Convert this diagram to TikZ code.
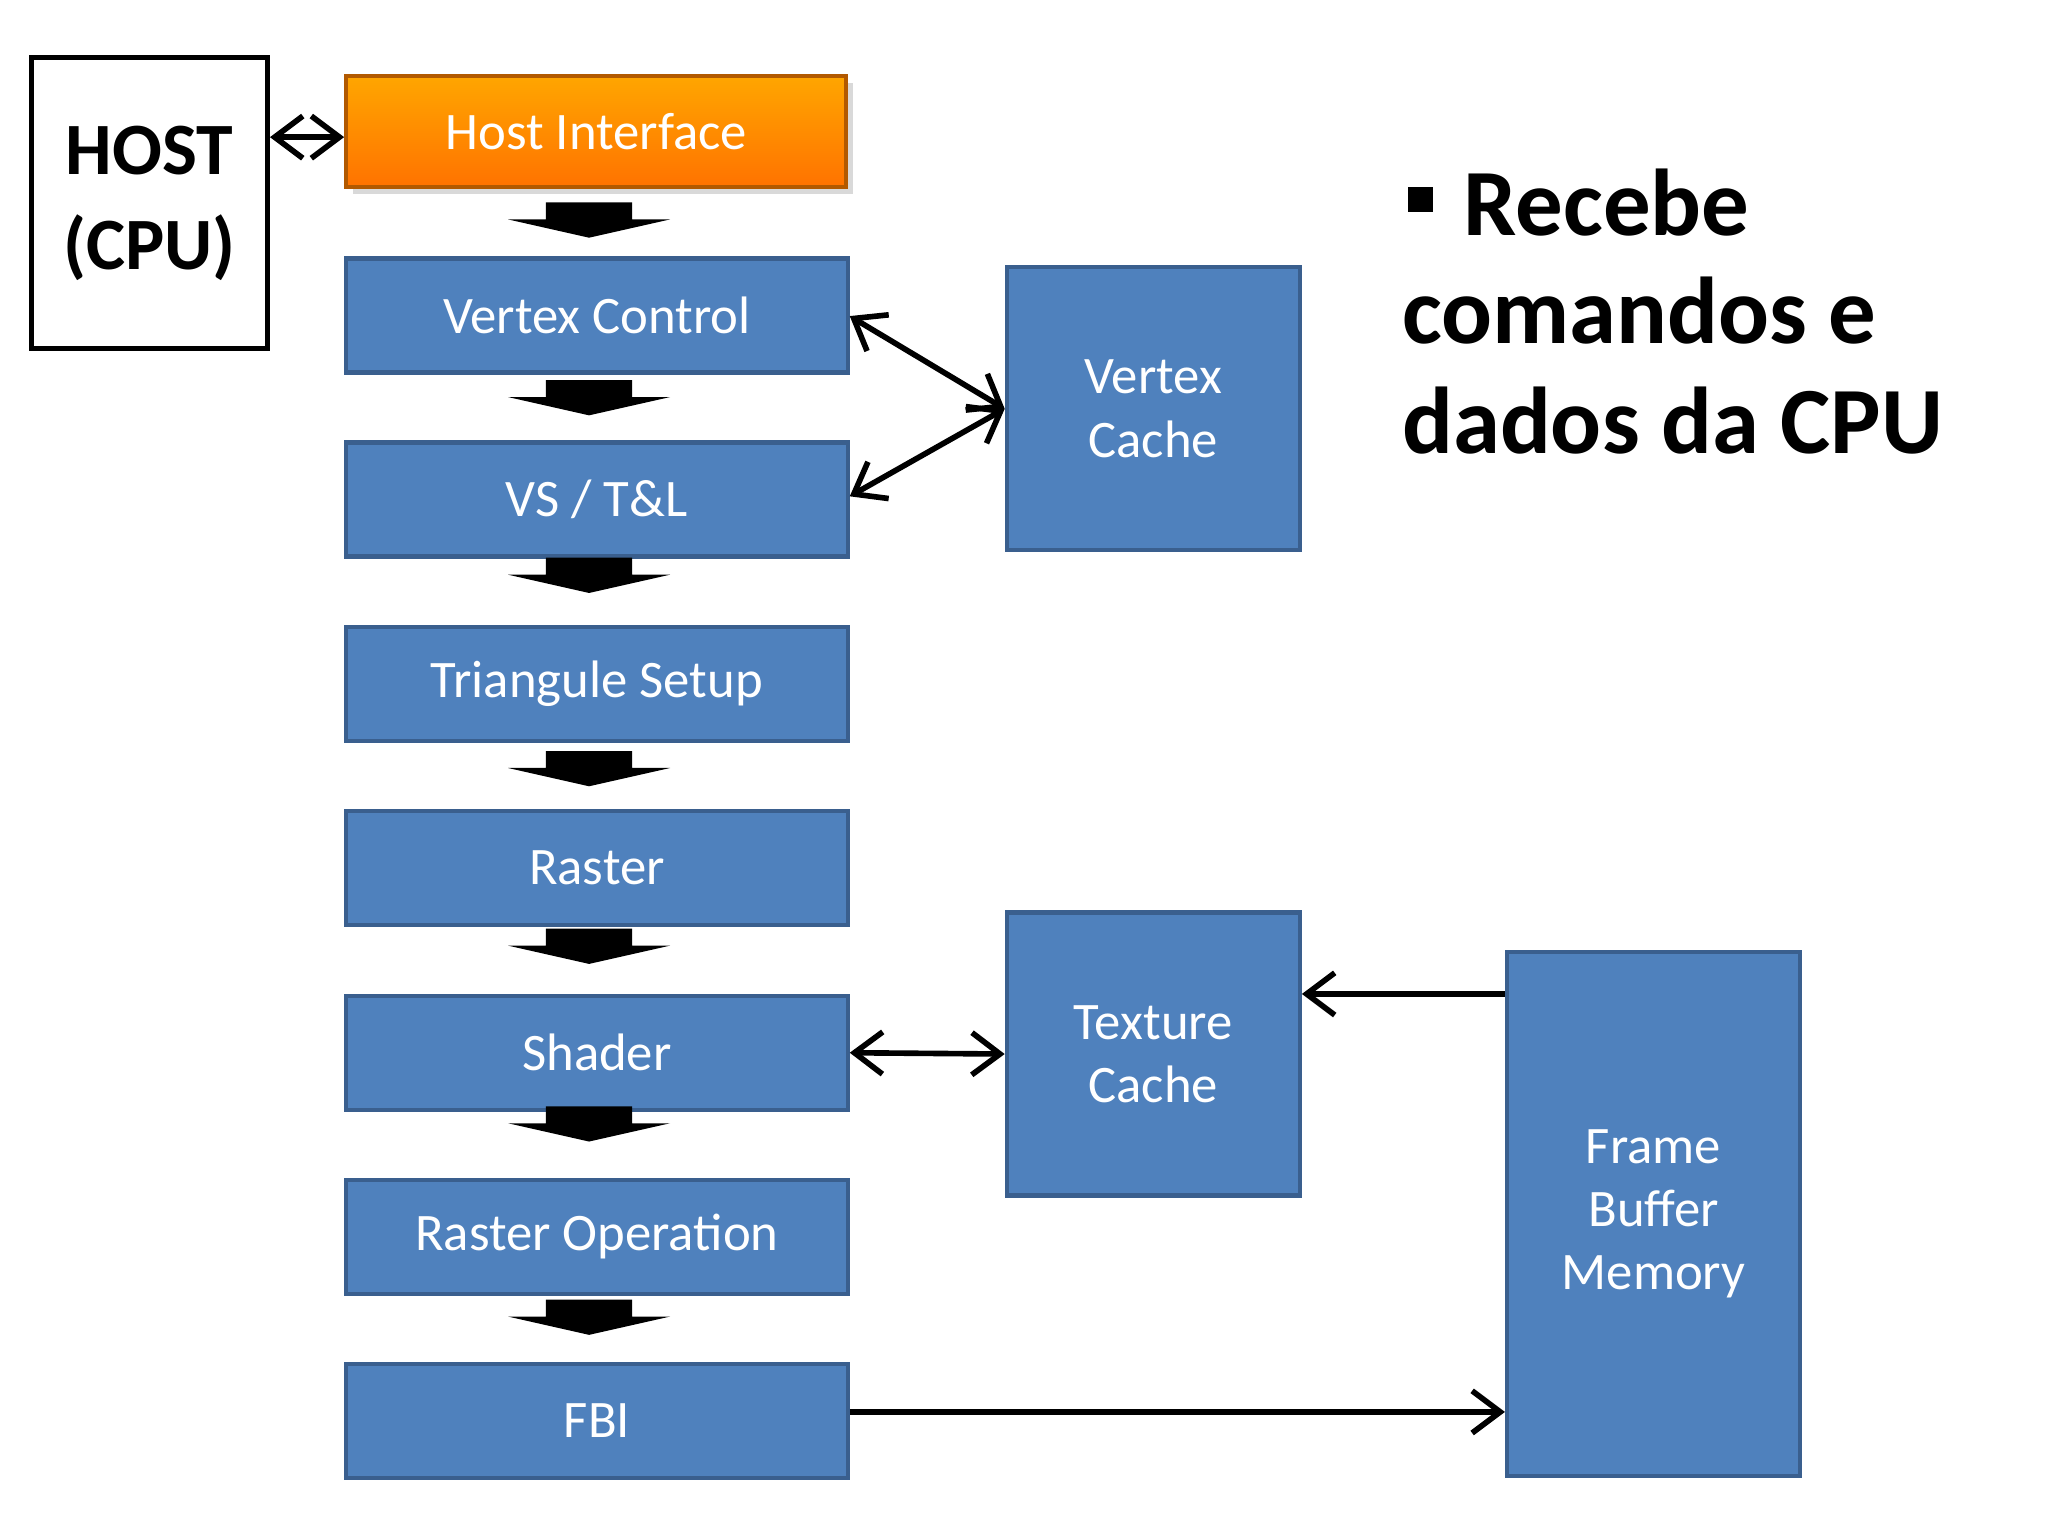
\documentclass[tikz,border=0pt]{standalone}
\usepackage{fontspec}
\setmainfont{Carlito}
\usetikzlibrary{arrows.meta,shadows}
\definecolor{bx}{HTML}{4F81BD}
\definecolor{bxd}{HTML}{3A5F8E}
\begin{document}
\begin{tikzpicture}[x=0.01306cm,y=-0.01306cm,
 box/.style={draw=bxd,line width=1.2pt,fill=bx,text=white,font=\fontsize{15}{18}\selectfont,inner sep=0pt,align=center},
 wide/.style={box,minimum width=5.015cm,minimum height=1.14cm},
 tall/.style={box,minimum width=2.93cm,minimum height=2.83cm},
 con/.style={line width=1.6pt,-{Straight Barb[length=8pt,width=12pt,line width=1.6pt]}},
 con2/.style={line width=1.6pt,{Straight Barb[length=8pt,width=12pt,line width=1.6pt]}-{Straight Barb[length=8pt,width=12pt,line width=1.6pt]}},
 pics/barr/.style={code={\fill (-33,-13) -- (33,-13) -- (33,0) -- (62,0) -- (0,14) -- (-62,0) -- (-33,0) -- cycle;}}]
\useasboundingbox (0,0) rectangle (1568,1176);
\node[draw,line width=1.4pt,minimum width=2.36cm,minimum height=2.91cm,font=\bfseries\fontsize{21}{27}\selectfont,align=center] (host) at (114.5,155.5) {HOST\\(CPU)};
\node[box,draw=orange!70!black,shading=axis,top color=orange!70!yellow,bottom color=orange!90!red,minimum width=5.0cm,minimum height=1.11cm,drop shadow={opacity=0.3,shadow xshift=2pt,shadow yshift=-2pt}] (hi) at (456.5,100.5) {Host Interface};
\node[wide] (vc) at (457,241.5) {Vertex Control};
\node[wide] (vs) at (457,382.5) {VS / T\&L};
\node[wide] (ts) at (457,523.5) {Triangule Setup};
\node[wide] (ra) at (457,664.5) {Raster};
\node[wide] (sh) at (457,806) {Shader};
\node[wide] (ro) at (457,947) {Raster Operation};
\node[wide] (fbi) at (457,1088) {FBI};
\node[tall] (vca) at (883,313) {Vertex\\Cache};
\node[tall] (tc) at (883,807) {Texture\\Cache};
\node[box,minimum width=2.93cm,minimum height=5.24cm] (fb) at (1266,929.5) {Frame\\Buffer\\Memory};
\foreach \y in {168,304,440,588,724,860,1008} \pic at (451,\y) {barr};
\draw[con2] (host.east |- 0,105) -- (hi.west |- 0,105);
\draw[con2] (vc.east |- 0,242) -- (vca.west);
\draw[con2] (vs.east |- 0,380) -- (vca.west);
\draw[con2] (sh.east) -- (tc.west);
\draw[con] (fb.west |- 0,761) -- (tc.east |- 0,761);
\draw[con] (fbi.east |- 0,1081) -- (fb.west |- 0,1081);
\node[anchor=base west,font=\bfseries\fontsize{27}{32}\selectfont,inner sep=0pt] (t1) at (1120,180) {Recebe};
\fill (1078,143) rectangle (1097,162);
\node[anchor=base west,font=\bfseries\fontsize{27}{32}\selectfont,inner sep=0pt] (t2) at (1073,263) {comandos e};
\node[anchor=base west,font=\bfseries\fontsize{27}{32}\selectfont,inner sep=0pt] (t3) at (1073,347) {dados da CPU};
\end{tikzpicture}
\end{document}
